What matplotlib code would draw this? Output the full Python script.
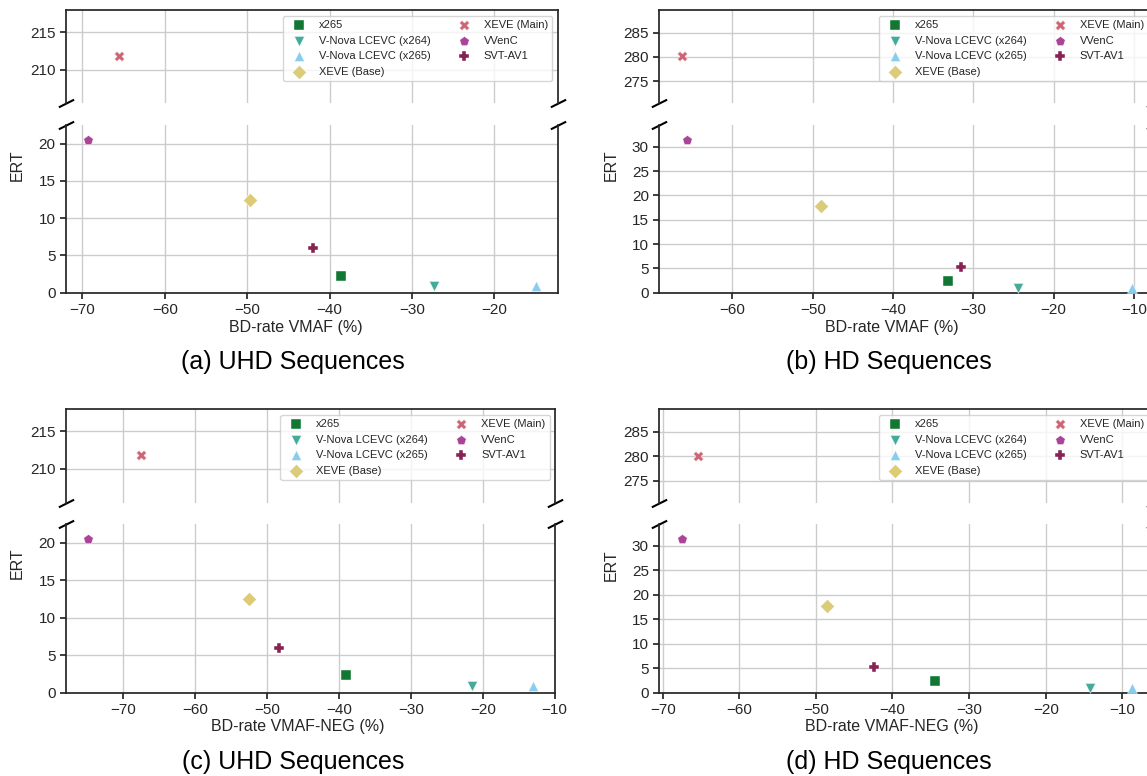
import numpy as np
import matplotlib
matplotlib.use('Agg')
import matplotlib.pyplot as plt

plt.rcParams['font.family'] = ['Liberation Sans', 'DejaVu Sans']
plt.rcParams['text.color'] = '.15'
plt.rcParams['axes.labelcolor'] = '.15'
plt.rcParams['xtick.color'] = '.15'
plt.rcParams['ytick.color'] = '.15'
plt.rcParams['axes.edgecolor'] = '.15'
plt.rcParams['axes.linewidth'] = 1.25
plt.rcParams['xtick.major.width'] = 1.25
plt.rcParams['ytick.major.width'] = 1.25
plt.rcParams['xtick.major.size'] = 4
plt.rcParams['ytick.major.size'] = 4
plt.rcParams['xtick.labelsize'] = 11
plt.rcParams['ytick.labelsize'] = 11
plt.rcParams['grid.color'] = '.8'
plt.rcParams['grid.linewidth'] = 1

encoders = ['x265', 'V-Nova LCEVC (x264)', 'V-Nova LCEVC (x265)', 'XEVE (Base)',
            'XEVE (Main)', 'VVenC', 'SVT-AV1']
markers = ['s', 'v', '^', 'D', 'X', 'p', 'P']
colors = ['#117733', '#44AA99', '#88CCEE', '#DDCC77', '#CC6677', '#AA4499', '#882255']

# ERT per encoder
uhd_ert = [2.3, 0.9, 0.9, 12.45, 211.8, 20.5, 5.95]
hd_ert = [2.4, 0.9, 0.95, 17.8, 280.1, 31.5, 5.3]

# BD-rate (%) per encoder
uhd_vmaf = [-38.6, -27.3, -15.0, -49.7, -65.5, -69.3, -42.0]
hd_vmaf = [-33.2, -24.4, -10.3, -49.0, -66.3, -65.6, -31.5]
uhd_vmaf_neg = [-39.0, -21.5, -13.0, -52.5, -67.5, -74.9, -48.4]
hd_vmaf_neg = [-34.5, -14.2, -8.8, -48.6, -65.4, -67.5, -42.4]

W, H = 1147, 776
fig = plt.figure(figsize=(W / 100, H / 100), dpi=100)


def px_axes(x0, x1, ytop, ybot):
    return fig.add_axes([x0 / W, 1 - ybot / H, (x1 - x0) / W, (ybot - ytop) / H])


panels = [
    # x values, ert, xlabel, caption, x-range px, y-rows px, top ylim, bottom ylim, yticks
    (uhd_vmaf, uhd_ert, 'BD-rate VMAF (%)', '(a) UHD Sequences', (65.8, 558), (10, 103, 125, 292.7),
     (205.5, 218), (0, 22.5), [0, 5, 10, 15, 20], [210, 215]),
    (hd_vmaf, hd_ert, 'BD-rate VMAF (%)', '(b) HD Sequences', (659.3, 1154), (10, 103, 125, 292.7),
     (270.5, 289.7), (0, 34.5), [0, 5, 10, 15, 20, 25, 30], [275, 280, 285]),
    (uhd_vmaf_neg, uhd_ert, 'BD-rate VMAF-NEG (%)', '(c) UHD Sequences', (65.8, 555.3), (409, 502.5, 524, 692.5),
     (205.5, 218), (0, 22.5), [0, 5, 10, 15, 20], [210, 215]),
    (hd_vmaf_neg, hd_ert, 'BD-rate VMAF-NEG (%)', '(d) HD Sequences', (659.3, 1154), (409, 502.5, 524, 692.5),
     (270.5, 289.7), (0, 34.5), [0, 5, 10, 15, 20, 25, 30], [275, 280, 285]),
]

label_pos = [((296, 327), (17, 165), (293, 362)),
             ((892, 327), (611, 165), (889, 362)),
             ((298, 727), (17, 563), (293, 762)),
             ((892, 727), (611, 565), (889, 762))]

for (xs, ert, xlabel, caption, (x0, x1), (t0, t1, b0, b1), ylim_top, ylim_bot, yt_bot, yt_top), \
        (xl_pos, yl_pos, cap_pos) in zip(panels, label_pos):
    ax_top = px_axes(x0, x1, t0, t1)
    ax_bot = px_axes(x0, x1, b0, b1)
    ax_top.sharex(ax_bot)

    for ax in (ax_top, ax_bot):
        ax.set_axisbelow(True)
        ax.grid(True)
        for x, y, name, m, c in zip(xs, ert, encoders, markers, colors):
            ax.scatter(x, y, marker=m, color=c, s=52, edgecolor='white', linewidth=0.3,
                       label=name, zorder=3)

    ax_top.set_ylim(*ylim_top)
    ax_bot.set_ylim(*ylim_bot)
    ax_top.set_yticks(yt_top)
    ax_bot.set_yticks(yt_bot)
    lo, hi = ax_bot.get_xlim()
    ax_bot.set_xticks(np.arange(-70, 0, 10))
    ax_bot.set_xlim(lo, hi)

    ax_top.spines['bottom'].set_visible(False)
    ax_bot.spines['top'].set_visible(False)
    ax_top.tick_params(axis='x', which='both', bottom=False, labelbottom=False)

    # diagonal break marks
    d = .5
    kw = dict(marker=[(-1, -d), (1, d)], markersize=11, linestyle='none', color='k',
              mec='k', mew=1.5, clip_on=False)
    ax_top.plot([0, 1], [0, 0], transform=ax_top.transAxes, **kw)
    ax_bot.plot([0, 1], [1, 1], transform=ax_bot.transAxes, **kw)

    ax_top.legend(ncol=2, fontsize=8, loc='upper right', frameon=True, fancybox=True,
                  framealpha=0.8, edgecolor='.8')

    fig.text(xl_pos[0] / W, 1 - xl_pos[1] / H, xlabel, ha='center', va='center', fontsize=11.5)
    fig.text(yl_pos[0] / W, 1 - yl_pos[1] / H, 'ERT', ha='center', va='center', rotation=90,
             fontsize=11.5)
    fig.text(cap_pos[0] / W, 1 - cap_pos[1] / H, caption, ha='center', va='center', fontsize=18,
             color='black')

fig.savefig('out.png', dpi=100)
